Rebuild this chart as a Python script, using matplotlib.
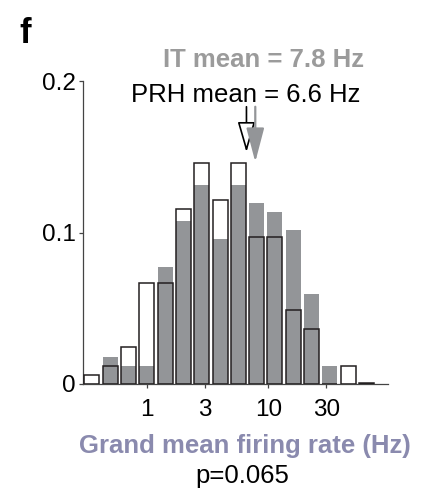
import matplotlib
matplotlib.use('Agg')
import matplotlib.pyplot as plt

plt.rcParams['font.family'] = ['Liberation Sans', 'DejaVu Sans']

# ---- data ----
bin_centers = [0.354, 0.5, 0.707, 1.0, 1.414, 2.0, 2.83, 4.0, 5.66, 8.0,
               11.3, 16.0, 22.6, 32.0, 45.3, 64.0]
it_frac = [0.0, 0.0176, 0.0117, 0.0117, 0.0772, 0.1076, 0.1314, 0.0957,
           0.1314, 0.1195, 0.1135, 0.1017, 0.0594, 0.0119, 0.0, 0.0]
prh_frac = [0.0059, 0.0121, 0.0242, 0.0667, 0.0667, 0.1153, 0.1459, 0.1215,
            0.1459, 0.0972, 0.0972, 0.0486, 0.0363, 0.0, 0.0121, 0.0008]
xticks = [1, 3, 10, 30]
xticklabels = ['1', '3', '10', '30']
yticks = [0, 0.1, 0.2]
yticklabels = ['0', '0.1', '0.2']
it_mean = 7.8
prh_mean = 6.6

W, H = 427, 493
fig = plt.figure(figsize=(W / 100, H / 100), dpi=100)
ax = fig.add_axes([83 / W, 1 - 384 / H, (388 - 83) / W, (384 - 81) / H])

half = 10 ** 0.0617
lefts = [c / half for c in bin_centers]
widths = [c * half - c / half for c in bin_centers]

gray = '#939598'
edge = '#231f20'
ax.bar(lefts, it_frac, width=widths, align='edge', color=gray, linewidth=0, zorder=2)
ax.bar(lefts, prh_frac, width=widths, align='edge', facecolor='none',
       edgecolor=edge, linewidth=1.1, zorder=3)

ax.set_xscale('log')
ax.set_xlim(0.2987, 96.3)
ax.set_ylim(0, 0.2)
ax.set_xticks(xticks)
ax.set_xticklabels(xticklabels)
ax.xaxis.set_minor_locator(matplotlib.ticker.NullLocator())
ax.set_yticks(yticks)
ax.set_yticklabels(yticklabels)
for s in ['top', 'right']:
    ax.spines[s].set_visible(False)
for s in ['left', 'bottom']:
    ax.spines[s].set_color('#444444')
    ax.spines[s].set_linewidth(0.9)
ax.tick_params(axis='both', direction='out', length=3, width=0.9,
               color='#444444', labelsize=17.5)
ax.tick_params(axis='x', pad=8)
ax.tick_params(axis='y', pad=2)

# mean arrows
ax.annotate('', xy=(prh_mean, 0.153), xytext=(prh_mean, 0.183),
            arrowprops=dict(arrowstyle='-|>,head_width=0.55,head_length=1.9',
                            facecolor='white', edgecolor='black', lw=1.2,
                            shrinkA=0, shrinkB=0), zorder=5)
ax.annotate('', xy=(it_mean, 0.1465), xytext=(it_mean, 0.183),
            arrowprops=dict(arrowstyle='-|>,head_width=0.55,head_length=2.1',
                            facecolor=gray, edgecolor=gray, lw=1.6,
                            shrinkA=0, shrinkB=0), zorder=6)

def ftext(x, y, s, **kw):
    fig.text(x / W, 1 - y / H, s, **kw)

ftext(263.5, 67, 'IT mean = %.1f Hz' % it_mean, ha='center', va='baseline',
      fontsize=18.5, fontweight='bold', color='#9b9b9b')
ftext(245.5, 102, 'PRH mean = %.1f Hz' % prh_mean, ha='center', va='baseline',
      fontsize=18.5, color='black')
ftext(244.5, 453, 'Grand mean firing rate (Hz)', ha='center', va='baseline',
      fontsize=18.5, fontweight='bold', color='#8a8aae')
ftext(242.5, 483, 'p=0.065', ha='center', va='baseline', fontsize=18.5,
      color='black')
ftext(19, 43, 'f', ha='left', va='baseline', fontsize=25, fontweight='bold',
      color='black')

fig.savefig('out.png', dpi=100)
